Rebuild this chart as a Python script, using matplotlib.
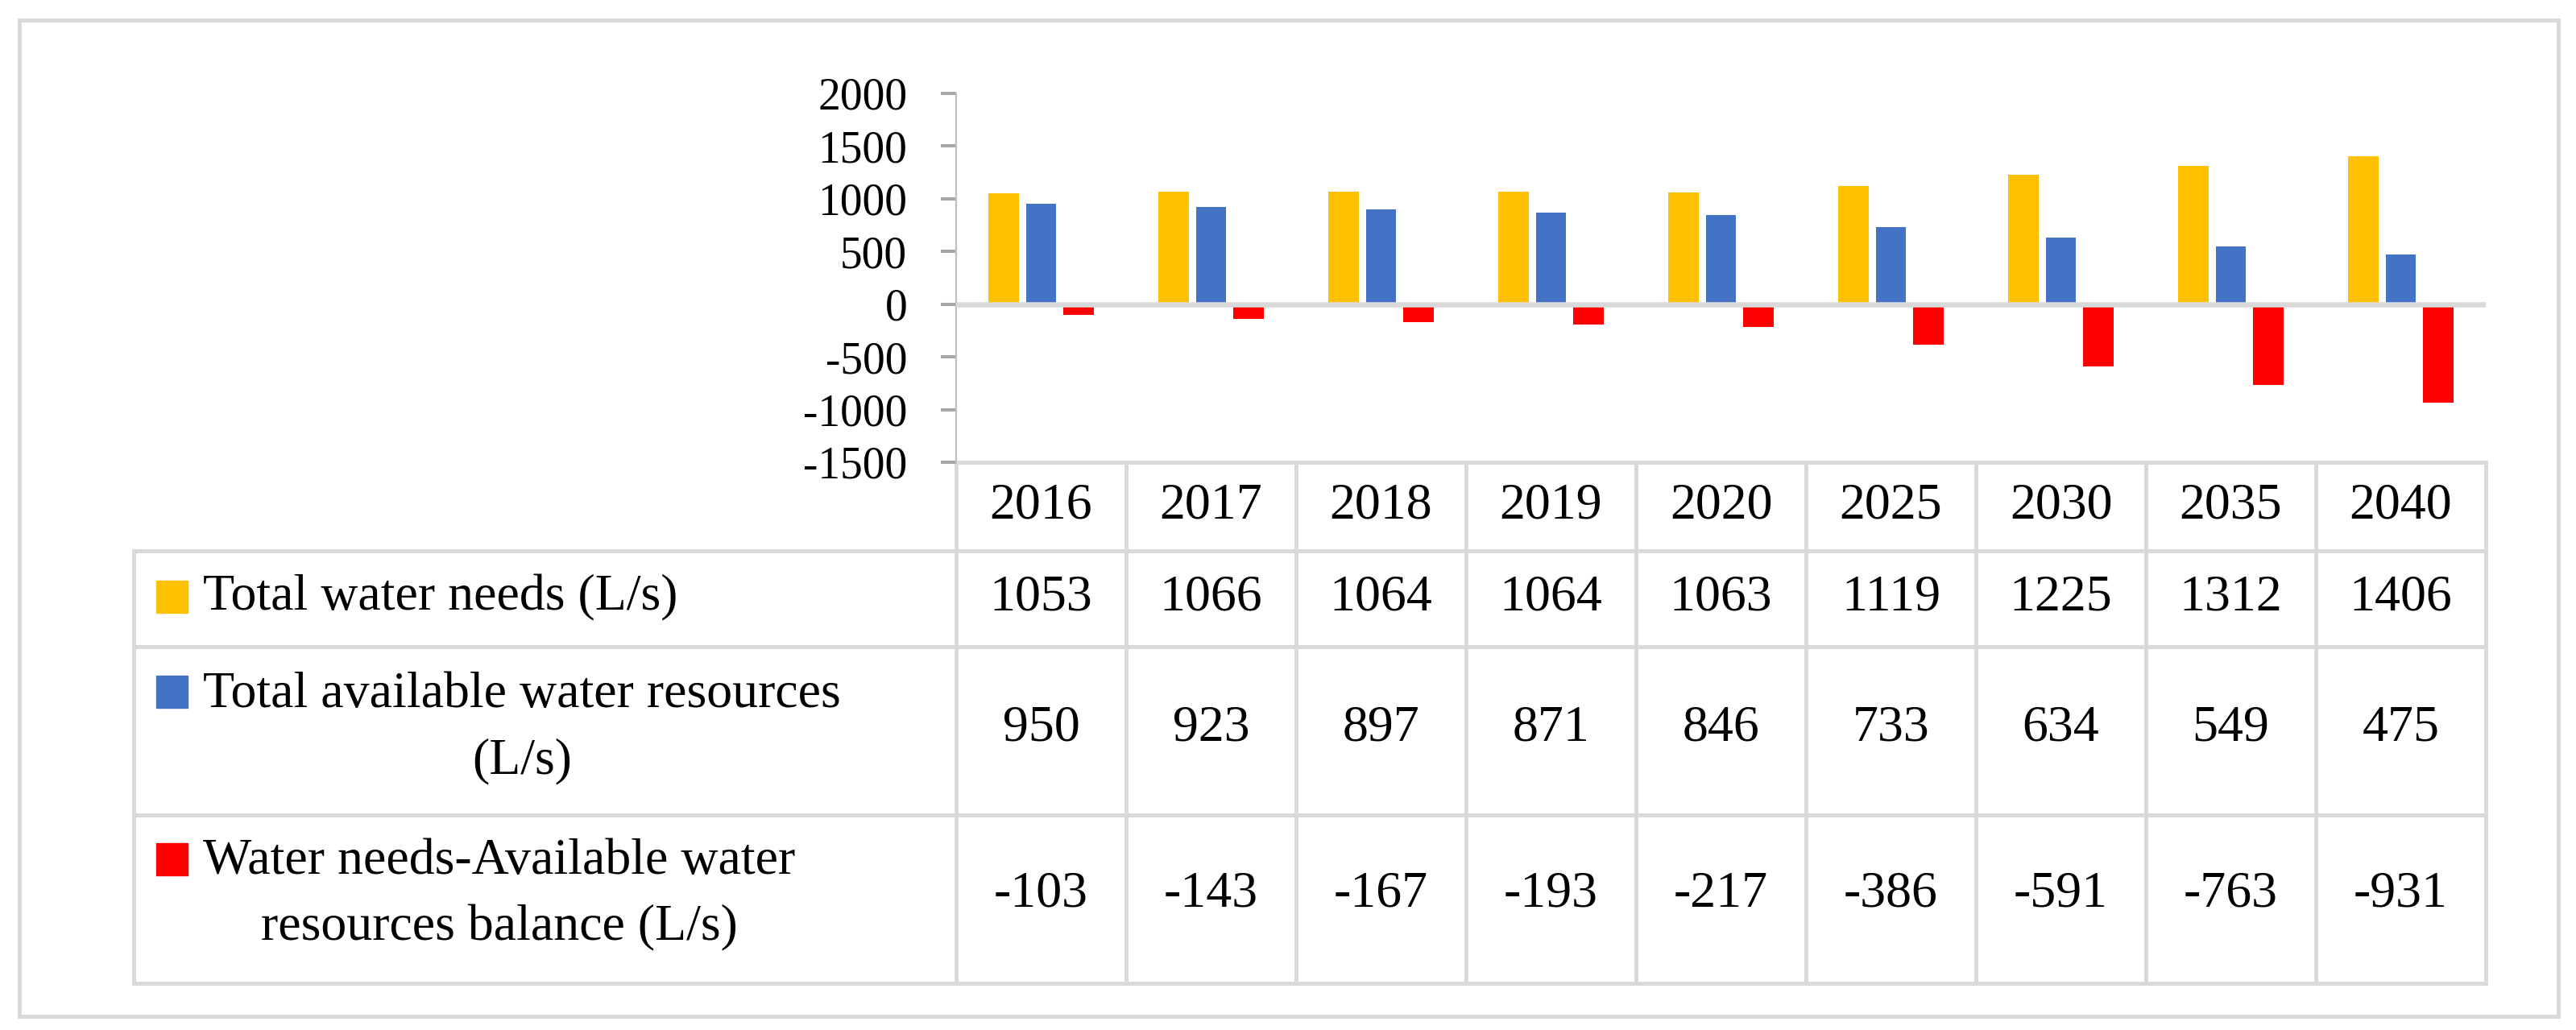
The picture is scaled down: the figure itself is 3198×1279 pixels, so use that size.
import numpy as np
import matplotlib.pyplot as plt
from matplotlib.patches import Rectangle
from matplotlib.transforms import blended_transform_factory

years = ["2016", "2017", "2018", "2019", "2020", "2025", "2030", "2035", "2040"]
total_needs = [1053, 1066, 1064, 1064, 1063, 1119, 1225, 1312, 1406]
available = [950, 923, 897, 871, 846, 733, 634, 549, 475]
balance = [-103, -143, -167, -193, -217, -386, -591, -763, -931]
series_labels = ["Total water needs (L/s)",
                 "Total available water resources\n(L/s)",
                 "Water needs-Available water\nresources balance (L/s)"]
colors = ["#FFC000", "#4472C4", "#FF0000"]
yticks = [-1500, -1000, -500, 0, 500, 1000, 1500, 2000]

plt.rcParams['font.family'] = ['Liberation Serif', 'DejaVu Serif']
plt.rcParams['axes.unicode_minus'] = False

W, H = 3198, 1279
grid_col = "#D9D9D9"

fig = plt.figure(figsize=(W / 100, H / 100), dpi=100)

# background axes in pixel units (frame + table)
bg = fig.add_axes([0, 0, 1, 1])
bg.set_xlim(0, W)
bg.set_ylim(H, 0)
bg.axis('off')

# plot area
left, right, top, bottom = 1187, 3086, 116, 574
ax = fig.add_axes([left / W, 1 - bottom / H, (right - left) / W, (bottom - top) / H])
ax.patch.set_alpha(0)

x = np.arange(len(years))
w = 0.18
step = 0.222
for k, vals in enumerate([total_needs, available, balance]):
    ax.bar(x + (k - 1) * step, vals, w, color=colors[k], zorder=2)

ax.axhline(0, color=grid_col, lw=4.7, zorder=3)
ax.set_xlim(-0.5, len(years) - 0.5)
ax.set_ylim(-1500, 2000)
ax.set_yticks(yticks)
ax.set_xticks([])
for s in ['top', 'right', 'bottom']:
    ax.spines[s].set_visible(False)
ax.spines['left'].set_color('#BFBFBF')
ax.spines['left'].set_linewidth(1.6)
ax.tick_params(axis='y', length=13.7, width=2.9, color='#A6A6A6', pad=30,
               labelsize=40)

# outer frame
bg.add_patch(Rectangle((24, 25), 3152, 1237, fill=False, ec=grid_col, lw=3.6))

# table: x in category units, y in pixels
tr = blended_transform_factory(ax.transData, bg.transData)
row_lines = [574, 684, 803, 1012, 1221]
label_left = 166
tlw = 3.6
n = len(years)

bg.plot([-0.5, n - 0.5], [row_lines[0]] * 2, color=grid_col, lw=tlw, transform=tr,
        solid_capstyle='projecting')
for yl in row_lines[1:]:
    bg.plot([label_left, right], [yl, yl], color=grid_col, lw=tlw,
            solid_capstyle='projecting')
for i in range(n + 1):
    bg.plot([i - 0.5, i - 0.5], [row_lines[0], row_lines[-1]], color=grid_col,
            lw=tlw, transform=tr)
bg.plot([label_left, label_left], [row_lines[1], row_lines[-1]], color=grid_col, lw=tlw)

fs = 46
year_y = 628
for i, yr in enumerate(years):
    bg.text(i, year_y, yr, transform=tr, ha='center', va='center', fontsize=fs)

row_y = [742, 904, 1111]
first_line_y = [741, 859, 1067]
for r, vals in enumerate([total_needs, available, balance]):
    for i, v in enumerate(vals):
        bg.text(i, row_y[r], str(v), transform=tr, ha='center', va='center',
                fontsize=fs)
    bg.add_patch(Rectangle((194, first_line_y[r] - 20), 39, 40, color=colors[r]))
    bg.text(252, row_y[r], series_labels[r], ha='left', va='center',
            multialignment='center', fontsize=fs, linespacing=1.55)

fig.savefig("out.png", dpi=100)
